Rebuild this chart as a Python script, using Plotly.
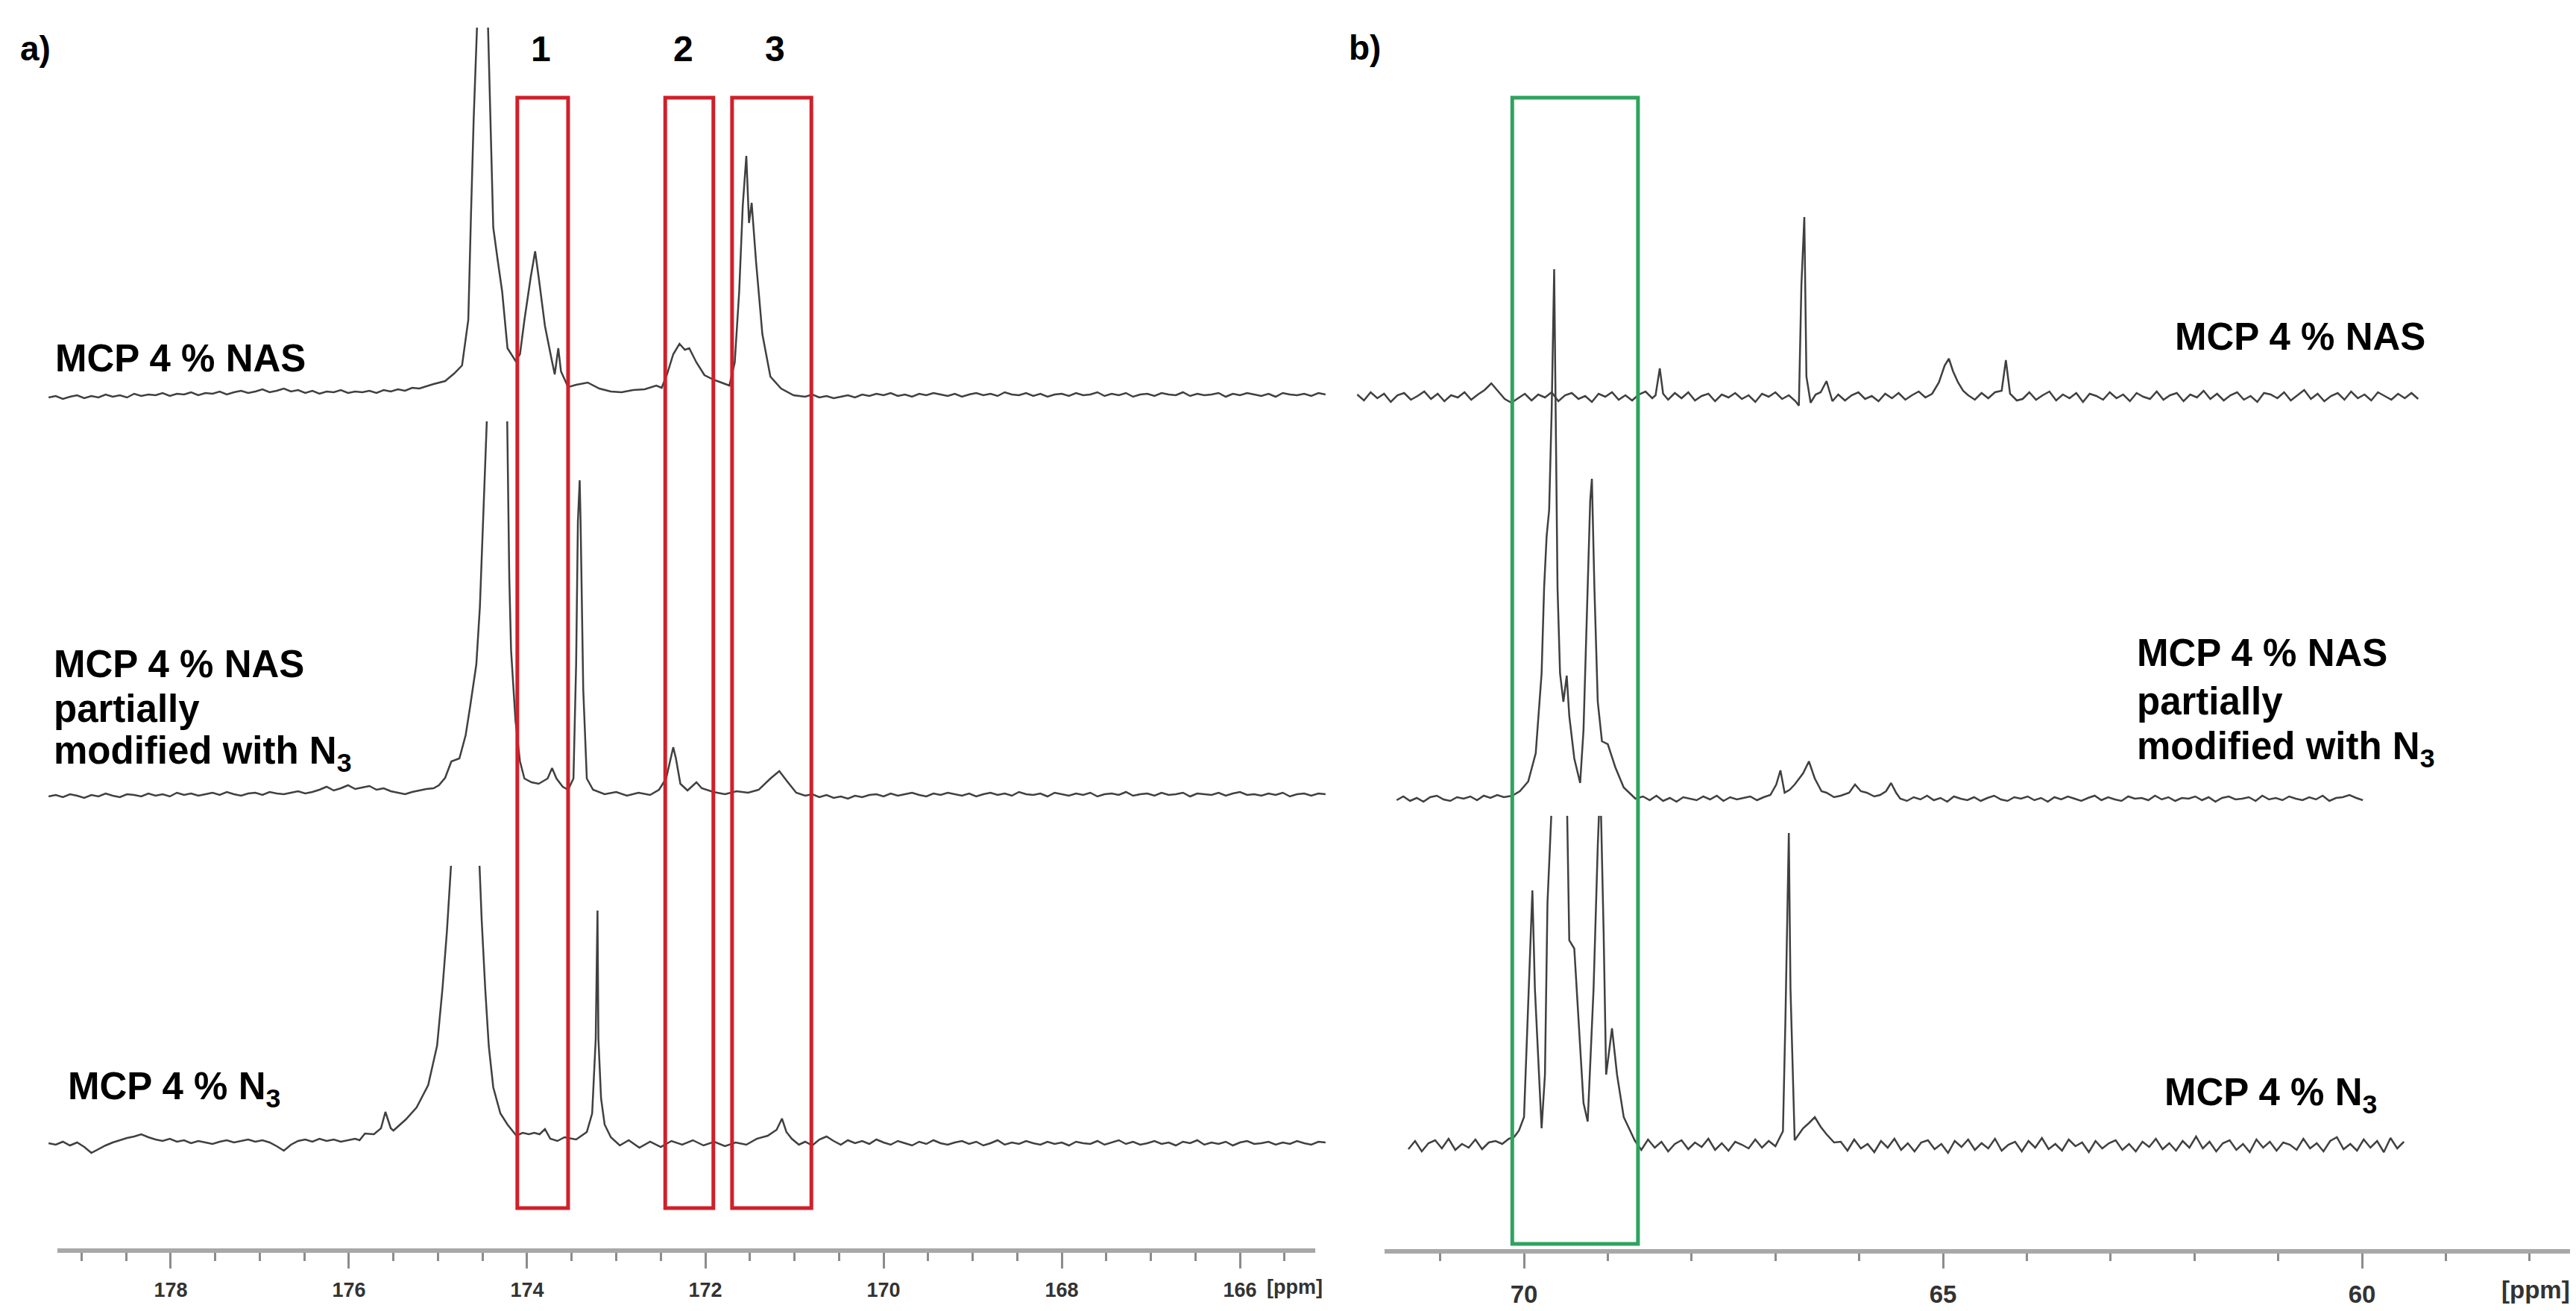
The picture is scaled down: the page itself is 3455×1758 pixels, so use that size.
import numpy as np
import plotly.graph_objects as go

W, H = 3455, 1758

# ---- data: 13C NMR traces, intensities (baseline = 0) ----
# noise runs are sampled every `step` ppm from their start; peak runs are (ppm, intensity)
step_a = 0.08
step_b = 0.08

# panel a) 179-165 ppm
a1_noise1 = [-4, -2, -6, -3, -1, -5, -2, -4, 0, -3, -1, -4, 1, -2, 0, -1, 2, -2, 1, 0,
             3, -1, 2, 1, 4, 0, 3, 5, 2, 4, 7, 3, 5, 8, 4, 6, 2, 5, 1, 4,
             3, 6, 2, 4, 3, 5, 2, 6, 4, 7, 5, 9, 8, 11, 14]
a1_peaks = [(174.92, 18), (174.82, 28), (174.73, 39), (174.66, 100), (174.63, 240), (174.60, 368),
            (174.56, 500), (174.49, 640), (174.44, 500), (174.41, 368), (174.38, 224), (174.33, 180),
            (174.28, 138), (174.22, 62), (174.13, 45), (174.08, 54), (174.03, 100), (173.96, 157),
            (173.91, 192), (173.87, 157), (173.80, 92), (173.73, 50), (173.69, 27), (173.65, 62),
            (173.62, 31), (173.54, 10), (173.45, 13), (173.32, 16), (173.19, 8), (173.06, 4),
            (172.94, 3), (172.81, 6), (172.68, 7), (172.55, 12), (172.49, 9), (172.43, 27),
            (172.36, 54), (172.29, 68), (172.23, 60), (172.18, 62), (172.10, 43), (172.01, 26),
            (171.91, 20), (171.82, 16), (171.73, 12), (171.67, 43), (171.62, 138), (171.58, 253),
            (171.54, 320), (171.51, 230), (171.48, 257), (171.43, 177), (171.36, 81), (171.27, 24),
            (171.15, 8), (171.01, -1)]
a1_noise2 = [-3, 0, -4, -2, -5, -3, -1, -4, 0, -2, 1, -1, 2, -2, 0, -3, 1, -1, 2, 0,
             -2, 1, -3, 0, 2, -1, 1, -2, 3, 0, -1, 2, -2, 1, -3, 0, 1, -2, 2, -1,
             0, 3, -2, 1, -1, 2, -3, 0, 1, -2, 2, 0, -1, 3, -2, 1, -1, 0, 2, -3,
             1, -1, 2, 0, -2, 1, -3, 2, 0, -1, 1, -2, 2, 0]

a2_noise1 = [-3, -1, -4, 0, -2, -5, -1, -3, 1, -2, -4, 0, -1, -3, 1, -2, 0, -3, 2, -1,
             1, -2, 0, 2, -1, 3, 0, -2, 1, 2, -1, 3, 1, 0, 2, 4, 1, 3, 6, 10,
             5, 8, 12, 7, 9, 11, 6, 8, 4, 2, 0, 3, 5, 7, 8]
a2_peaks = [(174.99, 12), (174.92, 22), (174.85, 44), (174.76, 48), (174.69, 79),
            (174.64, 117), (174.57, 174), (174.53, 251), (174.49, 366), (174.45, 480), (174.44, 540),
            (174.33, 600), (174.23, 560), (174.20, 290), (174.18, 193), (174.13, 98), (174.08, 44),
            (174.03, 21), (173.95, 16), (173.87, 14), (173.77, 21), (173.72, 35), (173.67, 21),
            (173.60, 10), (173.54, 6), (173.48, 21), (173.45, 174), (173.43, 366), (173.41, 421),
            (173.40, 366), (173.37, 140), (173.33, 21), (173.26, 6), (173.13, 0), (173.00, 3),
            (172.88, -2), (172.75, 2), (172.62, -1), (172.52, 6), (172.44, 21), (172.39, 48),
            (172.36, 63), (172.33, 48), (172.28, 14), (172.20, 5), (172.10, 16), (172.04, 8),
            (171.91, 3), (171.78, 0), (171.65, 4), (171.52, 2), (171.40, 6), (171.27, 21),
            (171.17, 31), (171.08, 17), (170.98, 2)]
a2_noise2 = [-2, 0, -4, -1, -5, -3, -6, -2, -4, -1, 0, -3, 1, -2, 0, 2, -1, -3, 1, -1,
             2, 0, -2, 1, -3, 0, 2, -1, 1, -2, 3, 0, -1, 1, -3, 2, 0, -2, 1, -1,
             2, -3, 0, 1, -1, 3, -2, 0, 1, -2, 2, -1, 0, 2, -3, 1, 0, -1, 2, -2,
             1, 3, -1, 0, -2, 1, -1, 2, -3, 0, 1, -2, 1, 0]

a3_noise1 = [0, -2, 2, -3, 1, -5, -13, -8, -3, 1, 4, 7, 9, 12, 8, 5, 3, 6, 2, 4,
             0, 3, 1, -1, 2, 4, 1, 3, 5, 2, 4, 1, -4, -10, -2, 3, 5, 2, 6, 3,
             5, 2, 4, 6]
a3_peaks = [(175.88, 4), (175.82, 13), (175.72, 12), (175.64, 20), (175.59, 42), (175.53, 20),
            (175.50, 17), (175.43, 25), (175.36, 32), (175.24, 48), (175.11, 78), (175.01, 131),
            (174.95, 207), (174.90, 284), (174.85, 380), (174.70, 420), (174.54, 390), (174.51, 300),
            (174.47, 207), (174.43, 130), (174.38, 75), (174.30, 40), (174.22, 25), (174.12, 10),
            (174.05, 14), (173.98, 12), (173.92, 14), (173.86, 12), (173.80, 19), (173.74, 6),
            (173.66, 3), (173.58, 8), (173.45, 5), (173.33, 15), (173.27, 40), (173.23, 140),
            (173.21, 312), (173.20, 140), (173.17, 60), (173.13, 25), (173.06, 8), (172.96, -3),
            (172.86, 4), (172.74, -6), (172.62, 2), (172.50, -5), (172.38, 3), (172.26, -2),
            (172.14, 4), (172.02, -3), (171.90, 2), (171.78, -4), (171.66, 1), (171.54, -2),
            (171.42, 6), (171.30, 10), (171.20, 18), (171.14, 33), (171.09, 15), (171.03, 6),
            (170.95, -2)]
a3_noise2 = [2, -3, 5, 9, 3, -2, 4, 0, 3, -1, 5, 1, -2, 3, 0, -3, 2, -1, 4, 0,
             -2, 1, 3, -1, 2, -3, 0, 4, -2, 1, -1, 3, 0, -2, 2, -1, 1, -3, 2, 0,
             -1, 3, -2, 1, 4, -1, 2, -2, 0, 3, -1, 1, -3, 2, 0, 4, -2, 1, -1, 2,
             -3, 1, 3, -1, 0, 2, -2, 1, -1, 3, 0, -2, 2, 1]

# panel b) 72-59 ppm
b1_noise1 = [3, -5, 6, -2, 4, -7, 2, 5, -4, 1, 7, -3, 4, -6, 2, -1, 6, -4, 3, 9,
             18, 7, -3, -8, -2, 4, -5, 3, -1, 6, -6, 2, 5, -3, 1, -7, 4, 0, 6, -4,
             2, -5, 3, 7, -2]
b1_peaks1 = [(68.43, 2), (68.38, 38), (68.34, 4)]
b1_noise2 = [-4, 5, -2, 6, -5, 1, 4, -6, 3, -1, 5, -3, 2, -7, 4, 0, 6, -3, 2]
b1_peaks2 = [(66.76, -6), (66.72, -12), (66.69, 149), (66.655, 241), (66.63, 27), (66.58, -8),
             (66.52, 3), (66.46, 6), (66.39, 21), (66.32, -6)]
b1_noise3 = [3, -5, 2, 6, -3, 1, -6, 4, -2, 5, -4, 2, 7, -1, 4]
b1_peaks3 = [(65.05, 19), (64.98, 42), (64.93, 51), (64.88, 34), (64.82, 19), (64.76, 8),
             (64.70, 2), (64.62, -4), (64.54, 5), (64.46, -2), (64.38, 6), (64.30, 8),
             (64.25, 49), (64.20, 4), (64.12, -5)]
b1_noise4 = [-3, 6, -4, 2, 7, -5, 3, -2, 5, -7, 4, 1, -4, 6, -2, 3, -6, 5, 0, -3,
             7, -4, 2, 5, -6, 3, -1, 8, -3, 4, -5, 2, 6, -4, 1, -7, 5, 3, -2, 6,
             -5, 2, 9, -3, 4, -6, 1, 5, -4, 7, -2, 3, -5, 6, 1, -4, 4, -2, 5, -3]

b2_noise1 = [-2, 3, -3, 1, -4, 2, 4, -1, -3, 2, 0, 3, -2, 4, 1, 5, 2]
b2_peaks1 = [(70.14, 4), (70.05, 10), (69.95, 23), (69.86, 61), (69.79, 168), (69.76, 283),
             (69.73, 352), (69.70, 387), (69.67, 520), (69.64, 710), (69.61, 420), (69.60, 283),
             (69.57, 168), (69.53, 130), (69.49, 165), (69.46, 111), (69.40, 54), (69.33, 21),
             (69.29, 92), (69.24, 283), (69.21, 400), (69.19, 429), (69.16, 283), (69.12, 130),
             (69.07, 77), (69.00, 73), (68.91, 42), (68.81, 15), (68.67, 0)]
b2_noise2 = [3, -2, 4, -3, 1, -4, 2, 0, -2, 3, -1, 4, -3, 2, -1, 1, 3, -2, 2, 5]
b2_peaks2 = [(66.99, 19), (66.94, 38), (66.89, 8), (66.83, 12), (66.77, 19), (66.67, 34),
             (66.60, 50), (66.53, 27), (66.45, 10), (66.39, 8), (66.30, 2), (66.22, 4),
             (66.12, 8), (66.05, 19), (65.98, 10), (65.91, 8), (65.82, 3), (65.75, 5),
             (65.68, 10), (65.62, 21), (65.56, 8), (65.51, 0)]
b2_noise3 = [-3, 2, -1, 4, -2, 1, -4, 3, 0, -2, 2, -3, 1, 4, -1, -3, 2, 0, 3, -2,
             1, -4, 2, -1, 3, 0, -3, 1, 4, -2, 2, -1, -3, 3, 0, 1, -2, 4, -1, 2,
             -3, 1, 0, 3, -2, 2, -4, 1, 3, -1, 0, 2, -3, 4, -1, 1, -2, 3, 0, -2,
             2, -1, 4, -3, 1, 2, 5, 1, -2]

b3_noise1 = [-5, 6, -8, 3, 7, -4, 9, -6, 2, -3, 8, -5, 4, 6, 2, 9]
b3_peaks1 = [(70.12, 11), (70.06, 20), (70.00, 38), (69.94, 210), (69.90, 342), (69.87, 210),
             (69.82, 95), (69.79, 23), (69.75, 95), (69.72, 325), (69.66, 480), (69.58, 460),
             (69.49, 480), (69.46, 275), (69.40, 264), (69.35, 172), (69.29, 57), (69.24, 32),
             (69.17, 210), (69.12, 401), (69.09, 490), (69.05, 287), (69.02, 95), (68.95, 157),
             (68.89, 95), (68.81, 38), (68.68, 7)]
b3_noise2 = [-6, 8, -3, 5, -8, 2, 7, -5, 4, -2, 9, -6, 3, -7, 5, 1, -4, 8, -3, 6, -1]
b3_peaks2 = [(66.91, 19), (66.88, 172), (66.84, 419), (66.82, 210), (66.77, 7), (66.72, 15),
             (66.67, 23), (66.60, 30), (66.53, 38), (66.46, 25), (66.39, 15), (66.30, 4)]
b3_noise3 = [5, -7, 8, -4, 2, -9, 6, -3, 9, -6, 3, -8, 4, 7, -5, 2, -10, 6, -2, 8,
             -6, 3, -4, 9, -7, 1, 5, -8, 6, -3, 10, -5, 2, -7, 8, -1, 4, -9, 6, -4,
             3, 7, -6, 2, -8, 5, -2, 9, -5, 3, -7, 6, -3, 12, -4, 5, -8, 3, 7, -6,
             2, -9, 8, -3, 5, -7, 4, 1, -6, 9, -4, 3, -8, 6, 11, -5, 2, -7, 8, -3,
             6, -9, 10, -4, 5]

# each spectrum: noise runs (start ppm, values) alternating with peak runs
spectra_a = [
    [(179.37, a1_noise1), a1_peaks, (170.88, a1_noise2)],
    [(179.37, a2_noise1), a2_peaks, (170.88, a2_noise2)],
    [(179.37, a3_noise1), a3_peaks, (170.88, a3_noise2)],
]
spectra_b = [
    [(71.99, b1_noise1), b1_peaks1, (68.28, b1_noise2), b1_peaks2, (66.25, b1_noise3),
     b1_peaks3, (64.05, b1_noise4)],
    [(71.52, b2_noise1), b2_peaks1, (68.58, b2_noise2), b2_peaks2, (65.43, b2_noise3)],
    [(71.38, b3_noise1), b3_peaks1, (68.60, b3_noise2), b3_peaks2, (66.22, b3_noise3)],
]

# marked regions (ppm)
regions_a = [(174.11, 173.54), (172.45, 171.91), (171.70, 170.81)]
region_labels = ["1", "2", "3"]
region_b = (70.14, 68.64)

ticks_a = [178, 176, 174, 172, 170, 168, 166]
minor_a = [179.0 - 0.5 * i for i in range(28)]
ticks_b = [70, 65, 60]
minor_b = [71 - i for i in range(14)]

name_nas = "MCP 4 % NAS"
name_partial = ["MCP 4 % NAS", "partially", "modified with N<sub>3</sub>"]
name_n3 = "MCP 4 % N<sub>3</sub>"


def build(pieces, step):
    xs, ys = [], []
    for piece in pieces:
        if isinstance(piece, tuple):
            start, vals = piece
            xs.extend(start - step * np.arange(len(vals)))
            ys.extend(vals)
        else:
            px, pv = zip(*piece)
            xs.extend(px)
            ys.extend(pv)
    return np.array(xs), np.array(ys)


def py_(px):
    return 1 - px / H


def px_(px):
    return px / W


traces = [build(p, step_a) for p in spectra_a] + [build(p, step_b) for p in spectra_b]

# placement of each trace: (baseline px, clip top px)
frames = [(521, 29), (1057, 557), (1525, 1153), (524, 150), (1063, 300), (1528, 1086)]

fig = go.Figure()
layout = {}
for i, ((x, y), (base, top)) in enumerate(zip(traces, frames)):
    yname = "y" if i == 0 else f"y{i + 1}"
    xname = "x" if i < 3 else "x2"
    fig.add_trace(go.Scatter(x=x, y=y, mode="lines", xaxis=xname, yaxis=yname,
                             line=dict(color="#404040", width=2.5), hoverinfo="skip"))
    layout["yaxis" if i == 0 else f"yaxis{i + 1}"] = dict(
        domain=[py_(base + 30), py_(top)], range=[-30, base - top],
        anchor=xname, visible=False, fixedrange=True)

axis_y = py_(1671)
tick_style = dict(ticks="outside", tickcolor="#8c8c8c", tickwidth=3, showline=False,
                  showgrid=False, zeroline=False, anchor="free", position=axis_y,
                  fixedrange=True)
layout["xaxis"] = dict(domain=[px_(50), px_(1780)], range=[179.43, 164.955],
                       tickmode="array", tickvals=ticks_a, ticklen=21,
                       tickfont=dict(family="Liberation Sans Narrow, Liberation Sans",
                                     size=27, color="#333333", weight="bold"),
                       ticklabelstandoff=6,
                       minor=dict(tickvals=minor_a, ticks="outside", ticklen=11,
                                  tickwidth=3, tickcolor="#8c8c8c"),
                       **tick_style)
layout["xaxis2"] = dict(domain=[px_(1800), px_(3450)], range=[72.10, 57.42],
                        tickmode="array", tickvals=ticks_b, ticklen=21,
                        tickfont=dict(family="Liberation Sans", size=33,
                                      color="#333333", weight="bold"),
                        ticklabelstandoff=6,
                        minor=dict(tickvals=minor_b, ticks="outside", ticklen=11,
                                   tickwidth=3, tickcolor="#8c8c8c"),
                        **tick_style)

shapes = [
    dict(type="line", xref="x", yref="paper", x0=179.272, x1=165.155,
         y0=py_(1669), y1=py_(1669), line=dict(color="#a8a8a8", width=6)),
    dict(type="line", xref="x2", yref="paper", x0=71.664, x1=57.491,
         y0=py_(1670), y1=py_(1670), line=dict(color="#a8a8a8", width=6)),
]
for lo, hi in regions_a:
    shapes.append(dict(type="rect", xref="x", yref="paper", x0=lo, x1=hi,
                       y0=py_(1612), y1=py_(123), line=dict(color="#d0202a", width=5)))
shapes.append(dict(type="rect", xref="x2", yref="paper", x0=region_b[0], x1=region_b[1],
                   y0=py_(1660), y1=py_(123), line=dict(color="#2ea35f", width=5)))

font_lbl = dict(family="Liberation Sans, Arial", size=51, color="black")
ann = []


def label(text, x, y, xanchor="left", font=font_lbl):
    ann.append(dict(text=text, x=px_(x), y=py_(y), xref="paper", yref="paper",
                    xanchor=xanchor, yanchor="middle", showarrow=False, align="left",
                    font=font))


label("<b>a)</b>", 17, 57, font=dict(family="Liberation Sans", size=46, color="black"))
label("<b>b)</b>", 1799, 56, font=dict(family="Liberation Sans", size=46, color="black"))
for t, cx in zip(region_labels, [717, 908, 1031]):
    label(f"<b>{t}</b>", cx, 57, xanchor="center",
          font=dict(family="Liberation Sans", size=48, color="black"))

label(f"<b>{name_nas}</b>", 64, 472)
for j, line in enumerate(name_partial):
    label(f"<b>{line}</b>", 62, 882 + 60 * j)
label(f"<b>{name_n3}</b>", 81, 1452)
label(f"<b>{name_nas}</b>", 2907, 444)
for j, line in enumerate(name_partial):
    label(f"<b>{line}</b>", 2856, 867 + 65 * j)
label(f"<b>{name_n3}</b>", 2893, 1460)

label("<b>[ppm]</b>", 1728, 1718, xanchor="center",
      font=dict(family="Liberation Sans Narrow, Liberation Sans", size=27, color="#333333"))
label("<b>[ppm]</b>", 3393, 1721, xanchor="center",
      font=dict(family="Liberation Sans", size=33, color="#333333"))

fig.update_layout(width=W, height=H, margin=dict(l=0, r=0, t=0, b=0),
                  paper_bgcolor="white", plot_bgcolor="rgba(0,0,0,0)", showlegend=False,
                  shapes=shapes, annotations=ann, **layout)

fig.write_html("out.html")
